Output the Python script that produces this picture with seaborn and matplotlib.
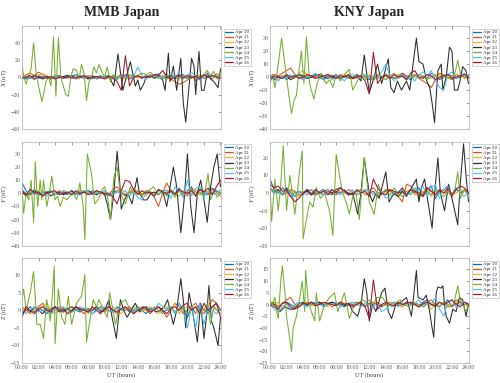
import numpy as np
import pandas as pd
import matplotlib
import matplotlib.pyplot as plt
import seaborn as sns

matplotlib.use('Agg')

days = ['Apr 20', 'Apr 21', 'Apr 22', 'Apr 23', 'Apr 24', 'Apr 25', 'Apr 26']
day_colors = ['#0072BD', '#D95319', '#EDB120', '#2b2b2b', '#77AC30', '#4DBEEE', '#A2142F']
hour_ticks = list(range(0, 25, 2))
hour_labels = ['%02d:00' % h for h in hour_ticks]
stations = ['MMB Japan', 'KNY Japan']

# quiet days: values every half hour, 00:00 .. 24:00
# active days (Apr 23, Apr 24): (hour, nT) pairs

# ---------- MMB X ----------
mmb_x_quiet = {
    'Apr 20': [1, -2, 0, 2, -1, 1, 0, -2, 1, 2, 0, -1, 1, 3, 0, -1, 2, 1, -2, 0, 1,
               2, -1, 0, 1, 3, -2, 0, 1, -1, 2, 0, 3, 4, -1, 0, 2, -2, 1, 3, 0, -1,
               2, 1, -1, 0, 2, 1, 0],
    'Apr 21': [0, 3, 5, 2, 6, 3, 1, -2, 0, 2, -1, 1, 0, -2, 1, 0, -1, 2, 0, -1, 1,
               0, -2, 1, 3, 0, -1, 2, 0, 1, -1, 3, 2, 0, 1, 4, -2, -5, -8, -6, -3, 2,
               -4, 0, 3, 1, -2, 4, 1],
    'Apr 22': [0, 2, 1, -1, 3, 4, 2, 0, -2, 1, 0, 2, 1, -1, 0, 1, 2, 0, -1, 1, 0,
               -1, 2, 1, 0, -2, 1, 3, 0, -1, 1, 2, 0, -1, 2, 1, 3, 0, -2, 1, 2, 0,
               -1, 3, 1, 0, 2, -1, 1],
    'Apr 25': [-2, 1, 0, -3, 2, 1, -1, 0, 2, -1, 1, 3, 0, -1, 2, 0, 1, -2, 0, 2, -1,
               0, 1, -3, 2, 0, -1, 1, 12, 2, -2, 1, 3, 0, -1, 2, 4, 1, 5, -2, 3, 6,
               0, -3, 2, 4, -1, 1, 0],
    'Apr 26': [-1, 0, 2, -2, 1, 0, -1, 1, -2, 0, 1, 2, -1, 0, 1, 2, 0, -1, 1, 0, -2,
               1, 0, -5, -15, 25, -10, 0, 2, -1, 1, 0, 3, 2, 8, 1, -2, 0, 3, -1, 2, 0,
               1, -2, 3, 0, 2, 1, -1],
}
mmb_x_active = {
    'Apr 23': [(0, -2), (0.5, 1), (1, -1), (1.5, 2), (2, 0), (2.5, -2), (3, 1), (3.5, -1),
               (4, 2), (4.5, 0), (5, -1), (5.5, 1), (6, 2), (6.5, -1), (7, 0), (7.5, 1),
               (8, -2), (8.5, 1), (9, 0), (9.5, 2), (10, -1), (10.5, 1), (11.1, -10),
               (11.6, 27), (12.2, -15), (12.6, 0), (13.1, 18), (13.7, -10), (14.0, -3),
               (14.3, -15), (14.7, -8), (15.0, 0), (15.5, 2), (16.0, -1), (16.5, 1),
               (17.0, -3), (17.3, -15), (17.7, 28), (17.9, -5), (18.3, 13), (18.7, -15),
               (19.2, 22), (19.5, -30), (19.8, -52), (20.2, -10), (20.5, 22), (20.8, 13),
               (21.0, -20), (21.4, 30), (21.7, -15), (22.0, -15), (22.4, 5), (22.8, -2),
               (23.2, -5), (23.7, -12), (24, 10)],
    'Apr 24': [(0, 12), (0.3, -2), (0.5, -8), (0.8, 2), (1.1, 10), (1.4, 40), (1.7, 5),
               (2.0, -10), (2.4, -28), (2.6, -20), (2.9, -5), (3.2, 0), (3.5, -10),
               (3.8, 47), (4.1, -22), (4.4, 46), (4.7, 0), (5.0, -10), (5.3, -20),
               (5.6, -22), (5.9, 0), (6.2, 10), (6.6, 8), (6.9, -2), (7.2, 15), (7.5, 5),
               (7.8, -27), (8.1, -5), (8.4, 0), (8.7, 12), (9.0, 5), (9.3, 15), (9.6, 8),
               (10.0, 0), (10.3, 12), (10.7, -5), (11.0, 3), (11.5, -2), (12.0, 2),
               (12.5, -1), (13.0, 3), (13.5, 0), (14.0, 2), (14.5, 5), (15.0, 3),
               (15.5, 6), (16.0, 2), (16.5, -1), (17.0, 1), (17.5, -2), (18.0, 0),
               (18.5, 2), (19.0, -1), (19.5, 1), (20.0, -2), (20.5, 0), (21.0, 2),
               (21.5, -1), (22.0, 3), (22.4, 8), (22.8, 2), (23.2, 7), (23.6, -2), (24, 3)],
}

# ---------- KNY X ----------
kny_x_quiet = {
    'Apr 20': [2, -1, 0, 1, -2, 0, 1, 2, 0, -1, 1, 2, 0, -2, 1, 0, 2, -1, 0, 1, -1,
               2, 0, 1, -2, 0, 1, -1, 2, 0, -1, 1, 3, 0, -2, 1, 2, 0, -1, 3, 1, -2,
               0, 2, 1, -1, 0, 2, 1],
    'Apr 21': [0, 2, 1, 3, 5, 7, 2, 0, -2, 1, 0, -1, 2, 0, 1, -1, 0, 2, 1, -1, 0,
               2, -1, 1, 0, -2, 1, 0, 2, 1, -1, 0, 3, 1, 0, 2, -1, -3, -5, -8, -2, 3,
               1, 0, -2, 2, 1, 0, -1],
    'Apr 22': [1, 0, -2, 1, 2, 0, -1, 3, 5, 2, 0, 1, -1, 0, 2, 1, 0, -1, 1, 2, 0,
               -1, 1, 0, 2, -1, 0, 1, -2, 0, 1, 2, 0, -1, 1, 0, 2, 1, -1, 0, 2, 1,
               0, -1, 1, 2, 0, 1, 0],
    'Apr 25': [2, 0, -3, 1, -1, 2, 0, 1, -2, 0, 1, 3, -1, 0, 2, -2, 1, 0, -3, 1, 2,
               0, -1, 2, 0, 1, -2, 4, 10, 1, -3, 0, 2, -1, 1, -3, 2, 4, 1, 5, -2, -8,
               -10, 2, 4, -1, 1, 3, 0],
    'Apr 26': [-2, 1, 0, -1, 2, 0, 1, -1, 0, 2, 1, -1, 0, 1, 2, 0, -1, 1, 0, 2, -1,
               0, 1, -3, -13, 19, -5, 0, 1, -1, 2, 0, 1, -2, 3, 5, 0, -1, 2, 1, -2, 0,
               1, 2, -1, 0, 1, 2, 0],
}
kny_x_active = {
    'Apr 23': [(0, 1), (0.5, -2), (1, 0), (1.5, -1), (2, 1), (2.5, -2), (3, 0), (3.5, 2),
               (4, 1), (4.5, -1), (5, 0), (5.5, 1), (6, 2), (6.5, 0), (7, -1), (7.5, 1),
               (8, 0), (8.5, -1), (9, 1), (9.5, 0), (10, -1), (10.5, 1), (11.0, -3),
               (11.4, 17), (12.0, -12), (12.6, 0), (13.0, 10), (13.5, -5), (14.3, 14),
               (14.6, -8), (15.0, -12), (15.4, -3), (15.9, -10), (16.5, -3), (16.9, -10),
               (17.7, 30), (18.0, 12), (18.5, 10), (18.9, -2), (19.3, -8), (19.6, -20),
               (19.9, -35), (20.3, 5), (20.7, 10), (20.9, -10), (21.3, 0), (21.7, 23),
               (22.0, 20), (22.3, -10), (22.7, -10), (23.0, -2), (23.3, 8), (23.7, 5),
               (24, -5)],
    'Apr 24': [(0, -5), (0.3, 2), (0.6, -8), (1.0, 10), (1.4, 30), (1.7, 15), (2.0, 0),
               (2.3, -15), (2.6, -28), (2.9, -18), (3.2, -14), (3.5, 5), (3.8, 20),
               (4.1, -5), (4.4, 31), (4.8, -5), (5.0, -10), (5.3, -17), (5.7, -5),
               (6.2, 3), (6.5, -2), (6.8, -5), (7.2, -2), (7.6, -8), (8.0, 2), (8.5, -3),
               (9.0, 2), (9.6, 6), (10.0, -10), (10.4, -5), (10.8, 0), (11.2, 3),
               (11.6, -2), (12.0, 1), (12.5, -3), (13.0, 2), (13.5, 0), (14.0, -2),
               (14.5, 1), (15.0, 3), (15.5, -1), (16.0, 1), (16.5, -2), (17.0, 0),
               (17.5, 2), (18.0, -1), (18.5, 1), (19.0, -2), (19.5, 0), (20.0, 1),
               (20.5, -1), (21.0, 2), (21.5, 0), (22.0, -2), (22.4, 4), (22.7, 13),
               (23.0, 3), (23.5, -1), (24, 2)],
}

# ---------- MMB Y ----------
mmb_y_quiet = {
    'Apr 20': [8, 2, -1, 3, 0, -2, 1, 2, -1, 0, 1, -1, 2, 0, -1, 1, 0, 2, -1, 1, 0,
               -2, 1, 2, 0, -1, 1, 0, 2, -1, 1, 0, -2, 3, 1, -1, 2, 0, 4, -3, 2, 5,
               -2, 3, 0, -1, 4, 2, 0],
    'Apr 21': [2, 0, -1, 2, 1, -2, 0, 1, -1, 2, 0, 1, -1, 0, 2, 1, 0, -1, 2, 0, 1,
               -1, 3, 5, 0, -2, 1, 3, 0, -1, 2, 1, -3, -10, 0, 8, 2, -1, 3, 0, -2, 4,
               1, -1, 2, 0, 3, 1, -2],
    'Apr 22': [1, -2, 3, 0, -1, 2, 0, 1, -1, 0, 2, 1, 0, -1, 1, 2, 0, -1, 1, 0, 2,
               -1, 0, 1, 3, 0, -1, 2, 1, 0, -2, 1, 0, 2, -1, 1, 3, 0, -2, 2, 1, 0,
               3, -1, 2, 1, 0, -1, 2],
    'Apr 25': [3, 0, 2, -1, 1, 0, -2, 1, 0, -1, 2, 0, 1, -1, 0, 2, 1, -1, 0, 1, 2,
               0, -1, 1, 0, 2, -2, 1, -3, -5, 0, 1, -2, 2, 0, 3, -4, 5, 2, -3, 10, -2,
               4, 5, -3, 2, 1, -1, 3],
    'Apr 26': [2, -1, 3, 0, 1, -2, 0, 1, 2, -1, 0, 1, -1, 2, 0, 1, -1, 0, 2, 1, -1,
               0, -3, -8, 2, 10, 9, 3, -1, 2, 0, 1, -2, 3, 1, 0, 2, -1, 3, 1, 0, 2,
               -2, 3, 1, 4, -1, 5, 10],
}
mmb_y_active = {
    'Apr 23': [(0, 1), (0.5, -2), (1, 0), (1.5, 2), (2, -1), (2.5, 0), (3, 1), (3.5, -2),
               (4, 0), (4.5, 1), (5, -1), (5.5, 0), (6, 2), (6.5, -1), (7, 0), (7.5, 1),
               (8, 2), (8.5, 0), (9, -1), (9.5, 1), (10.0, -1), (10.3, -8), (10.7, -20),
               (11.1, 0), (11.5, 32), (11.8, 10), (12.0, -12), (12.4, -5), (12.8, 0),
               (13.3, -8), (13.9, 12), (14.2, 0), (14.7, -5), (15.1, -5), (15.6, 0),
               (16.0, 1), (16.5, -1), (17.0, 2), (17.5, -10), (17.9, 5), (18.3, 20),
               (18.7, 5), (19.2, -30), (19.6, -5), (20.0, 30), (20.4, -10), (20.8, -30),
               (21.2, 0), (21.6, 10), (22.0, -5), (22.4, -22), (22.8, 5), (23.2, 20),
               (23.6, 30), (23.9, 10), (24, 5)],
    'Apr 24': [(0, 5), (0.2, -15), (0.5, 0), (0.8, -5), (1.1, 10), (1.4, -22), (1.6, 24),
               (1.9, -10), (2.2, 10), (2.4, -5), (2.6, 10), (3.0, -10), (3.3, 0),
               (3.6, 13), (4.0, -5), (4.3, -2), (4.6, -10), (5.0, -3), (5.4, -5),
               (5.8, -2), (6.2, 0), (6.6, -5), (7.0, 8), (7.4, -10), (7.6, -35),
               (7.9, 30), (8.4, 15), (8.8, -8), (9.2, -5), (9.7, 3), (10.0, 5),
               (10.4, -5), (10.7, -20), (11.1, 12), (11.5, 20), (11.9, 0), (12.5, -8),
               (13.1, 5), (13.5, -1), (14.0, 2), (14.5, -2), (15.0, 1), (15.5, 3),
               (15.9, 5), (16.5, -1), (17.0, 2), (17.5, -2), (18.0, 1), (18.5, -3),
               (19.0, 2), (19.5, -1), (20.0, 0), (20.5, 3), (21.0, -2), (21.5, 1),
               (22.0, -3), (22.5, 15), (22.8, -5), (23.2, 2), (23.6, -3), (24, 1)],
}

# ---------- KNY Y ----------
kny_y_quiet = {
    'Apr 20': [8, 2, 0, 3, 1, -2, 0, 1, -1, 2, 0, -1, 1, 2, 0, -1, 1, 0, 2, -1, 0,
               1, 2, -1, 0, 1, -2, 0, 1, 2, -1, 0, 1, -2, 2, 0, 3, -1, 2, 4, -3, 1,
               2, 4, -2, 3, 0, 2, 1],
    'Apr 21': [3, 1, 2, -1, 0, 2, 1, -1, 0, 1, 2, -1, 0, 1, 2, 0, -1, 1, 0, 2, 1,
               -1, 0, 2, 1, 3, 0, -1, 2, 1, 0, -2, -5, 5, 4, 1, -2, 0, 3, 1, -1, 2,
               0, 1, -2, 2, 0, 1, 0],
    'Apr 22': [2, 0, 1, -1, 2, 1, 0, -2, 1, 0, -1, 2, 0, 1, -1, 0, 2, 1, 0, -1, 1,
               0, 2, -1, 1, 0, -2, 1, 0, 2, 1, -1, 0, 1, 2, -1, 0, 1, 2, -2, 1, 0,
               2, 1, -1, 0, 2, 1, 0],
    'Apr 25': [3, 0, 1, -1, 2, 0, -2, 1, 0, -1, 2, 1, 0, -1, 1, 2, 0, -1, 1, 0, 2,
               -1, 0, 2, 1, -1, 0, 1, -3, -2, 0, 1, 2, -1, 0, 3, 1, 4, -2, 3, 5, -3,
               2, 4, -1, 3, 0, -2, 1],
    'Apr 26': [5, 3, 4, 1, 2, -2, -5, -3, 0, 1, -1, 2, 0, 1, -1, 2, 0, 3, 1, 0, -1,
               2, 0, 1, -2, 8, 3, 0, -1, 2, 1, 0, 3, -1, 2, 1, 0, -2, 3, 1, -1, 2,
               0, 3, -1, 2, 4, 3, 0],
}
kny_y_active = {
    'Apr 23': [(0, 3), (0.5, 0), (1, 2), (1.5, -1), (2, 3), (2.5, 0), (3, -2), (3.5, 1),
               (4, 0), (4.5, 2), (5, -1), (5.5, 1), (6, 0), (6.5, -1), (7, 1), (7.5, 0),
               (8, 2), (8.5, 3), (9, 1), (9.5, -1), (10.0, 0), (10.6, -12), (11.0, 0),
               (11.4, 20), (12.0, 0), (12.4, -5), (12.8, 0), (13.2, -3), (14.0, 12),
               (14.4, -5), (15.0, 0), (15.5, -2), (16.0, 1), (16.5, -1), (17.0, 2),
               (17.7, 8), (18.0, -5), (18.3, 3), (18.7, 8), (19.1, -5), (19.6, -20),
               (19.9, 0), (20.3, 20), (20.6, 0), (21.1, -10), (21.6, 5), (22.0, -3),
               (22.7, -18), (23.0, 5), (23.4, 28), (23.7, 10), (24, -5)],
    'Apr 24': [(0, 5), (0.2, -16), (0.6, 8), (1.0, -10), (1.3, 5), (1.6, 27), (2.0, -10),
               (2.4, 10), (2.7, 0), (3.0, -12), (3.3, 0), (3.6, 14), (3.9, 24),
               (4.0, -26), (4.4, -15), (4.8, -5), (5.2, -8), (5.6, 3), (6.1, -3),
               (6.6, 0), (7.2, -10), (7.6, -24), (8.0, 22), (8.4, 10), (8.8, 0),
               (9.2, -5), (9.6, -12), (10.0, -2), (10.4, 0), (10.8, -15), (11.4, 20),
               (12.0, -5), (12.6, -12), (13.1, 5), (13.5, 0), (14.0, 2), (14.5, -1),
               (15.0, 3), (15.5, 0), (16.0, -2), (16.5, 1), (17.0, -1), (17.5, 2),
               (18.0, 0), (18.5, -2), (19.0, 1), (19.5, -1), (20.0, 2), (20.5, 0),
               (21.0, -2), (21.5, 1), (22.0, -1), (22.4, 3), (22.7, 12), (23.0, -3),
               (23.5, 2), (24, 0)],
}

# ---------- MMB Z ----------
mmb_z_quiet = {
    'Apr 20': [-1, 0, 1, -0.5, 0.5, 0, -1, 0.5, 1, 0, -0.5, 0.5, 1, 0, -0.5, 0, 0.5,
               -1, 0, 1, 0.5, 0, -0.5, 1, 0, 0.5, -0.5, 0, 1, 0, -1, 0.5, 0, 1, -0.5,
               0, 1, -1, 2, 0, -2, 1, -1, 2, 0, -1, 1, 2, 0],
    'Apr 21': [1, 0, -1, 0.5, 1, 2, 0, -1, 0, 1, -0.5, 0, 1, 0.5, 0, -1, 0.5, 0, 1,
               0, -0.5, 1, 0, -1, 0.5, 0, 1, -0.5, 0, 1, 0, -1, 0.5, 1, 0, -2, 0, 2,
               1, -1, 0, 1, 2, 0, -1, 1, 3, 2, 0],
    'Apr 22': [0, 1, -1, 0.5, 0, 1, 2, 0, -1, 0.5, 1, 0, -0.5, 1, 0, 0.5, -1, 0, 1,
               0.5, 0, -0.5, 1, 0, -1, 0.5, 0, 1, 0, -0.5, 0.5, 1, 0, -1, 0.5, 1, 0,
               2, -1, 0.5, 1, 0, -1, 1, 0, 2, 1, 0, -1],
    'Apr 25': [0.5, -1, 0, 1, -0.5, 0, 0.5, -1, 0, 0.5, 1, 0, -0.5, 0, 1, 0.5, 0, -1,
               0.5, 0, 1, 0, -0.5, 0.5, 0, 1, 0, -0.5, 0.5, 0, 1, 0.5, 0, 2, 1, 0, 1,
               -1, 2, 0, -5, 1, -5, 2, -4, 1, 0, -1, 0.5],
    'Apr 26': [-2, 1, 0, -1, 0.5, 1, 0, -0.5, 1, 0, 0.5, -1, 0, 1, 0.5, 0, -0.5, 1,
               0, -1, 0.5, 1, 0, -0.5, 0.5, 1, 0, -1, 0, 0.5, 1, -0.5, 0, 1, 0, -1,
               0.5, 1, 0, 1.5, 2, 0, 1, -1, 2, 0, 1, 2, -2],
}
mmb_z_active = {
    'Apr 23': [(0, -1), (0.5, 0.5), (1, -0.5), (1.5, 1), (2, 0), (2.5, -1), (3, 0.5),
               (3.5, 0), (4, 1), (4.5, -0.5), (5, 0), (5.5, 0.5), (6, -0.5), (6.5, 1),
               (7, 0), (7.5, 0.5), (8, -0.5), (8.5, 0), (9, 1), (9.5, -0.5), (10.0, 0),
               (10.5, 3), (10.9, -2), (11.4, -8), (11.9, 3), (12.3, 0), (12.7, -2),
               (13.2, 0), (13.7, 2), (14.2, -0.5), (14.7, 1), (15.2, 0), (15.7, 0.5),
               (16.2, -0.5), (16.7, 0), (17.2, 1), (17.6, 3), (18.3, -4), (18.7, 0),
               (19.2, 9), (19.5, 3), (19.8, -5), (20.2, 5), (20.6, 0), (21.2, -9),
               (21.6, 2), (22.0, -8), (22.3, -2), (22.6, 7), (22.9, -3), (23.2, -5),
               (23.7, -10), (24, -2)],
    'Apr 24': [(0, 3), (0.2, 6), (0.5, 0), (1.0, 5), (1.4, 11), (1.8, -4), (2.2, -4),
               (2.6, -8), (3.0, 3), (3.4, -3), (3.7, 5), (3.9, 12.5), (4.0, -9.5),
               (4.4, 6), (4.8, -2), (5.2, -4), (5.6, 4), (6.0, -4), (6.6, 2), (7.2, 4),
               (7.6, 10), (7.8, -9), (8.2, -3), (8.6, 3), (9.0, 1), (9.3, 3), (9.7, 1),
               (10.3, -2), (10.6, 5), (11.0, 0), (11.3, -4), (11.9, 2), (12.5, 3),
               (13.0, 0.5), (13.5, -1), (14.0, 1), (14.5, 0), (15.0, 0.5), (15.5, -0.5),
               (16.0, 1), (16.5, 0), (17.0, -1), (17.5, 0.5), (18.0, 1), (18.5, -0.5),
               (19.0, 0), (19.5, 1), (20.0, -1), (20.5, 0.5), (21.0, 1), (21.5, -0.5),
               (22.0, 0), (22.4, 2), (22.8, -4), (23.2, 1), (23.6, 0), (24, -1)],
}

# ---------- KNY Z ----------
kny_z_quiet = {
    'Apr 20': [1, 0, -1, 0.5, 1, 0, -1, 0.5, 0, -0.5, 1, 0, 0.5, -1, 0, 1, 0.5, 0,
               -1, 0.5, 0, 1, 0, -0.5, 0.5, 1, 0, -1, 0.5, 0, 1, -0.5, 0, 1, 0.5, 0,
               -1, 1, 2, 0, -1, 1, 0, 2, -1, 0.5, 1, 0, 0.5],
    'Apr 21': [0, 1, -1, 0.5, 2, 3, 0, -1, 0.5, 1, 0, -0.5, 1, 0, 0.5, -1, 0, 1, 0.5,
               0, -0.5, 1, 0, -1, 0.5, 0, 1, -0.5, 0, 1, 0.5, 0, -1, 1, 0, 0.5, -1, 0,
               1, 2, 0, -1, 1, 0, -1, 2, 1, 0, 0.5],
    'Apr 22': [0.5, 0, 1, -1, 0, -2, -1, 0, 1, 0.5, -0.5, 0, 1, 0, -1, 0.5, 0, 1, 0,
               -0.5, 1, 0, 0.5, -1, 0, 1, 0.5, 0, -0.5, 1, 0, 0.5, -1, 0, 1, 0.5, 0,
               -1, 1, -2, 0, 1, 0.5, -1, 0, 1, 0.5, 0, -1],
    'Apr 25': [0, -2, -3, -1, 0.5, -2, 0, 1, 0, -1, 0.5, 1, 0, -0.5, 0.5, 0, 1, -1, 0,
               0.5, 1, 0, -1, 0.5, 0, -1, 0.5, -3, -2, 0, 1, -1, 0.5, 0, 1, 0, 2, -1,
               1, 0, 3, -2, -5, 1, 2, -1, 0, 1, 0.5],
    'Apr 26': [0, -1, -2, 0.5, 1, -1, -2, -1, 0.5, 0, 1, -0.5, 0, 1, 0.5, 0, -0.5, 1,
               0, 0.5, -1, 0, 1, -1, -6, 10.5, -2, 0, 1, 0, -0.5, 1, 0, 0.5, 1, 0, -1,
               0.5, 1, 0, -0.5, 1, 0, 1, 2, 0, -1, 1, 0],
}
kny_z_active = {
    'Apr 23': [(0, 1), (0.5, 0), (1.2, -3), (1.8, -1), (2.4, -2), (2.8, -2), (3.2, -1),
               (3.6, 0.5), (4.0, 1), (4.5, 0), (5.0, 1), (5.5, 0.5), (6.0, 1), (6.5, 0),
               (7.0, 0.5), (7.5, 1), (8.0, 0), (8.5, 0.5), (9.0, -0.5), (9.6, 0),
               (10.0, -3), (10.6, -5), (11.0, 0), (11.4, 11), (11.7, 5), (12.0, -7),
               (12.4, 0), (12.8, -3), (13.5, 5), (13.9, 7), (14.3, -3), (14.7, -6),
               (15.2, 0), (15.8, 1), (16.5, 3), (17.1, -5), (17.7, 14.5), (17.9, 3),
               (18.5, 2), (18.9, 4), (19.3, -3), (19.6, -10), (19.8, -14), (20.1, 5),
               (20.3, 7.5), (20.7, 7), (20.9, 8), (21.1, 0), (21.3, -5), (21.7, -8),
               (22.1, -2), (22.5, -3), (22.9, 3), (23.3, 2), (23.7, -5), (24, 0)],
    'Apr 24': [(0, 2), (0.2, 0), (0.6, 3), (0.8, -3), (1.0, -6), (1.3, 10), (1.5, 16.5),
               (1.8, 5), (2.0, -5), (2.4, -15), (2.6, -20), (2.8, -10), (3.2, -5),
               (3.6, 3), (3.9, 10), (4.2, -3), (4.3, 14.5), (4.6, 2), (5.0, -3),
               (5.4, -7), (5.6, 5), (6.0, -7), (6.6, 0), (7.2, 3), (7.8, 5), (8.2, -3),
               (8.6, 1), (9.0, 5), (9.6, -6), (10.0, -2), (10.4, 0), (11.2, 2),
               (11.6, 1), (12.0, 2), (12.5, 0), (12.9, 3), (13.6, 3), (14.2, 0),
               (14.8, -1), (15.3, 1), (15.7, 2), (16.2, 0), (16.8, -1), (17.4, 1),
               (18.0, 0), (18.6, -1), (19.2, 1), (19.8, 0), (20.4, -1), (21.0, 1),
               (21.6, -1), (22.2, 0), (22.7, 8), (23.0, 2), (23.4, -1), (23.7, -3), (24, 0)],
}


def to_frame(quiet, active):
    parts = []
    for day, vals in quiet.items():
        parts.append(pd.DataFrame({'hour': np.linspace(0, 24, len(vals)),
                                   'value': vals, 'day': day}))
    for day, pairs in active.items():
        h, v = zip(*pairs)
        parts.append(pd.DataFrame({'hour': h, 'value': v, 'day': day}))
    return pd.concat(parts, ignore_index=True)


sns.set_style('white')
plt.rcParams['font.family'] = ['Liberation Serif', 'DejaVu Serif']
plt.rcParams['mathtext.fontset'] = 'custom'
plt.rcParams['mathtext.it'] = 'Liberation Serif:italic'
plt.rcParams['mathtext.rm'] = 'Liberation Serif'

fig = plt.figure(figsize=(5, 3.83), dpi=100)

# (quiet, active, component, y-ticks, y-limits)
panels = [
    [(mmb_x_quiet, mmb_x_active, 'X', range(-60, 41, 20), (-60, 59.5)),
     (kny_x_quiet, kny_x_active, 'X', range(-40, 31, 10), (-40, 39.3))],
    [(mmb_y_quiet, mmb_y_active, 'Y', range(-40, 31, 10), (-40, 39.3)),
     (kny_y_quiet, kny_y_active, 'Y', range(-30, 21, 10), (-30, 29.2))],
    [(mmb_z_quiet, mmb_z_active, 'Z', range(-15, 11, 5), (-15, 14.8)),
     (kny_z_quiet, kny_z_active, 'Z', range(-25, 16, 5), (-25, 19.8))],
]

lefts = [0.044, 0.54]
width = 0.397
bottoms = [0.663, 0.358, 0.052]
heights = [0.269, 0.272, 0.274]

for r in range(3):
    for c in range(2):
        quiet, active, comp, yt, yl = panels[r][c]
        ax = fig.add_axes([lefts[c], bottoms[r], width, heights[r]])
        df = to_frame(quiet, active)
        sns.lineplot(data=df, x='hour', y='value', hue='day', hue_order=days,
                     palette=day_colors, estimator=None, linewidth=0.75, ax=ax)
        ax.set_xlim(0, 24)
        ax.set_ylim(*yl)
        ax.set_yticks(list(yt))
        ax.set_xticks(hour_ticks)
        if r == 2:
            ax.set_xticklabels(hour_labels)
            ax.set_xlabel('UT (hours)', fontsize=4.6, labelpad=2, color='#444444')
        else:
            ax.set_xticklabels([])
            ax.set_xlabel('')
        ax.set_ylabel(r'$\it{%s}$ (nT)' % comp, fontsize=4.6, color='#444444')
        ax.yaxis.set_label_coords(-0.066, 0.5)
        ax.tick_params(direction='in', length=2, width=0.4, top=True, right=True,
                       labelsize=4.2, pad=1.2, colors='#555555')
        for s in ax.spines.values():
            s.set_linewidth(0.5)
            s.set_color('#b0b0b0')
        leg = ax.legend(loc='upper left', bbox_to_anchor=(1.003, 1.0), fontsize=3.6,
                        handlelength=1.7, handletextpad=0.4, borderpad=0.25,
                        labelspacing=0.12, frameon=True, fancybox=False,
                        edgecolor='#b0b0b0', framealpha=1)
        leg.get_frame().set_linewidth(0.4)
        for line in leg.get_lines():
            line.set_linewidth(0.9)

for c in range(2):
    fig.text(lefts[c] + width / 2, 0.968, stations[c], ha='center', va='center',
             fontsize=10, fontweight='bold')

fig.savefig('out.png', dpi=100)
